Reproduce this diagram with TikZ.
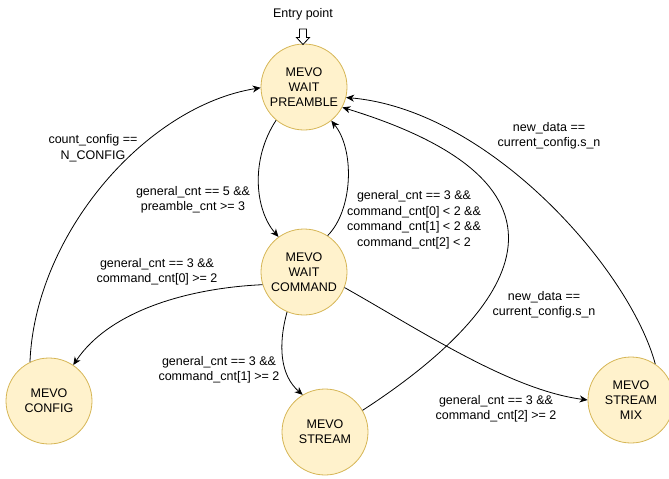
\documentclass[tikz,border=0pt]{standalone}
\usepackage{fontspec}
\setmainfont{Liberation Sans}
\usetikzlibrary{arrows.meta}
\definecolor{statefill}{HTML}{FFF2CC}
\definecolor{stateline}{HTML}{D6B656}
\begin{document}
\begin{tikzpicture}[x=1pt,y=-1pt,
  state/.style={circle, draw=stateline, fill=statefill, line width=0.8pt,
    minimum size=86pt, inner sep=0pt, align=center,
    font=\fontsize{12.5}{15}\selectfont},
  lbl/.style={align=center, inner sep=0pt, font=\fontsize{12.5}{15.5}\selectfont},
  tr/.style={draw, line width=0.8pt, -{Stealth[length=8pt,width=7pt,inset=2.5pt]}}]
\useasboundingbox (0,0) rectangle (669,479);

% states
\node[state] (pre) at (304,87)  {MEVO\\WAIT\\PREAMBLE};
\node[state] (cmd) at (304,272) {MEVO\\WAIT\\COMMAND};
\node[state] (cfg) at (49,401)  {MEVO\\CONFIG};
\node[state] (str) at (325,432) {MEVO\\STREAM};
\node[state] (mix) at (631,400) {MEVO\\STREAM\\MIX};

% entry point
\node[lbl] (entry) at (303,14) {Entry point};
\coordinate (ent) at (303,29);
\draw[fill=white, line width=0.8pt] (ent) ++(-3.5,0) -- ++(7,0) -- ++(0,8.5)
  -- ++(3,0) -- ++(-6.5,7) -- ++(-6.5,-7) -- ++(3,0) -- cycle;

% transitions
\draw[tr] (cfg.116) .. controls (35,234) and (146,106) .. (pre.181);
\draw[tr] (pre.230) .. controls (250,160) and (255,210) .. (cmd.126);
\draw[tr] (cmd.57) .. controls (353,210) and (355,150) .. (pre.309);
\draw[tr] (str.30) .. controls (502,320) and (612,190) .. (pre.332);
\draw[tr] (mix.56) .. controls (630,270) and (490,110) .. (pre.346);
\draw[tr] (cmd.197) .. controls (190,288) and (110,310) .. (cfg.56);
\draw[tr] (cmd.247) .. controls (278,345) and (280,375) .. (str.121);
\draw[tr] (cmd.339) .. controls (420,330) and (510,390) .. (mix.180);

% labels
\node[lbl] (l1) at (93,148)  {count\_config ==\\N\_CONFIG};
\node[lbl] (l2) at (193,200) {general\_cnt == 5 \&\&\\preamble\_cnt >= 3};
\node[lbl] (l3) at (414,220) {general\_cnt == 3 \&\&\\command\_cnt[0] < 2 \&\&\\command\_cnt[1] < 2 \&\&\\command\_cnt[2] < 2};
\node[lbl] (l4) at (157,272) {general\_cnt == 3 \&\&\\command\_cnt[0] >= 2};
\node[lbl] (l5) at (549,136) {new\_data ==\\current\_config.s\_n};
\node[lbl] (l6) at (544,305) {new\_data ==\\current\_config.s\_n};
\node[lbl] (l7) at (219,370) {general\_cnt == 3 \&\&\\command\_cnt[1] >= 2};
\node[lbl] (l8) at (496,409) {general\_cnt == 3 \&\&\\command\_cnt[2] >= 2};
\end{tikzpicture}
\end{document}
